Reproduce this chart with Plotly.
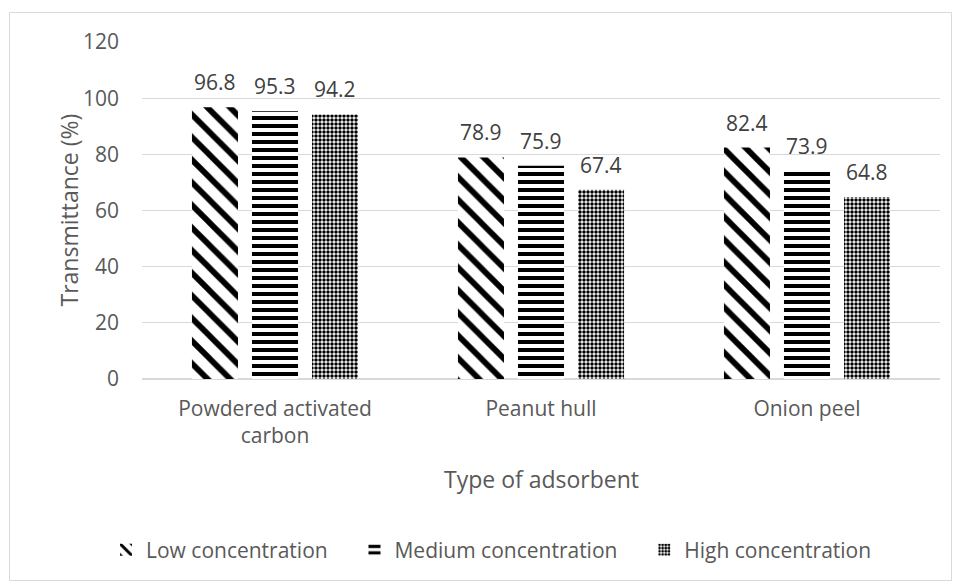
import plotly.graph_objects as go

categories = ["Powdered activated<br>carbon", "Peanut hull", "Onion peel"]
series_names = ["Low concentration", "Medium concentration", "High concentration"]
low = [96.8, 78.9, 82.4]
medium = [95.3, 75.9, 73.9]
high = [94.2, 67.4, 64.8]
y_ticks = [0, 20, 40, 60, 80, 100, 120]

font_family = "Open Sans, Liberation Sans, sans-serif"
txt = "#595959"

pattern_styles = [
    dict(shape="\\", size=16, solidity=0.36),
    dict(shape="-", size=8, solidity=0.5),
    dict(shape=".", size=4, solidity=0.6),
]
label_offsets = [-60, 0, 60]
legend_pad = "\u00a0\u00a0\u00a0\u00a0"

fig = go.Figure()
annotations = []
for name, vals, pst, off in zip(series_names, [low, medium, high], pattern_styles, label_offsets):
    pdict = dict(fgcolor="black", bgcolor="white", fillmode="replace", fgopacity=1, **pst)
    fig.add_trace(go.Bar(
        x=categories, y=vals, name=name + legend_pad,
        marker=dict(color="white", pattern=pdict, line=dict(width=0)),
    ))
    for c, v in zip(categories, vals):
        annotations.append(dict(
            x=c, y=v, xref="x", yref="y", text=f"{v:.1f}", showarrow=False,
            xshift=off, yshift=9, yanchor="bottom", xanchor="center",
            font=dict(size=21, color="#404040", family=font_family)))

# axis titles
annotations.append(dict(text="Type of adsorbent", xref="paper", yref="paper",
                        x=0.5, y=-0.297, xanchor="center", yanchor="middle", showarrow=False,
                        font=dict(size=23, color=txt, family=font_family)))
annotations.append(dict(text="Transmittance (%)", xref="paper", yref="paper",
                        x=-0.0927, y=0.5, xanchor="center", yanchor="middle", showarrow=False,
                        textangle=-90, font=dict(size=23, color=txt, family=font_family)))

fig.update_layout(
    width=954, height=582,
    margin=dict(l=142, r=14, t=42, b=203),
    paper_bgcolor="white", plot_bgcolor="white",
    barmode="group", bargap=0.323, bargroupgap=0.233,
    font=dict(family=font_family, color=txt, size=21),
    showlegend=True,
    legend=dict(orientation="h", xref="container", x=106 / 954, xanchor="left",
                yref="container", y=1 - 550 / 582, yanchor="middle",
                font=dict(size=21, color=txt), itemwidth=30, traceorder="normal"),
    yaxis=dict(range=[0, 120], tickvals=y_ticks, showgrid=True, gridcolor="#d9d9d9", gridwidth=1,
               zeroline=True, zerolinecolor="#d9d9d9", showline=False, ticks="",
               ticklabelstandoff=22, automargin=False,
               tickfont=dict(size=21, color=txt)),
    xaxis=dict(showline=False, ticks="", automargin=False, ticklabelstandoff=15,
               tickfont=dict(size=21, color=txt)),
    annotations=annotations,
    shapes=[dict(type="rect", xref="paper", yref="paper",
                 x0=(9.5 - 142) / 798, x1=(951.5 - 142) / 798,
                 y0=(379 - 580.5) / 337, y1=(379 - 12.5) / 337,
                 line=dict(color="#d9d9d9", width=1))],
)

fig.write_html("out.html")
